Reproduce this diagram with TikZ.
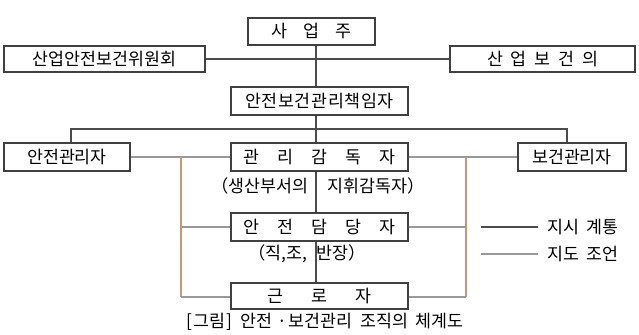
\documentclass[tikz,border=0pt]{standalone}
\usepackage{fontspec}
\newfontfamily\kr{Noto Sans CJK KR}
\begin{document}
\begin{tikzpicture}[x=0.75pt,y=-0.75pt,
  box/.style={draw=black!75,line width=1.1pt,rectangle,inner sep=0pt,
    font=\kr\fontsize{13}{15}\selectfont},
  txt/.style={inner sep=0pt,font=\kr\fontsize{13}{15}\selectfont},
  cmd/.style={draw=black!70,line width=0.9pt},
  adv/.style={draw=black!40,line width=1.1pt},
  advv/.style={draw={rgb,255:red,200;green,150;blue,120},line width=1.1pt}]
\useasboundingbox (0,0) rectangle (639,335);
% boxes
\node[box,minimum width={127*0.75pt},minimum height={27*0.75pt}] (owner) at (311.5,31.5) {사\hspace{0.95em}업\hspace{0.95em}주};
\node[box,minimum width={201*0.75pt},minimum height={26*0.75pt}] (comm) at (104.5,59) {산업안전보건위원회};
\node[box,minimum width={185*0.75pt},minimum height={26*0.75pt}] (doc) at (542.5,59) {산\hspace{0.45em}업\hspace{0.45em}보\hspace{0.45em}건\hspace{0.45em}의};
\node[box,minimum width={177*0.75pt},minimum height={28*0.75pt}] (chief) at (319.5,101) {안\kern0.5pt 전\kern0.5pt 보\kern0.5pt 건\kern0.5pt 관\kern0.5pt 리\kern0.5pt 책\kern0.5pt 임\kern0.5pt 자};
\node[box,minimum width={126*0.75pt},minimum height={28*0.75pt}] (safe) at (67,157) {안전관리자};
\node[box,minimum width={177*0.75pt},minimum height={28*0.75pt}] (sup) at (319.5,157) {관\hspace{1.05em}리\hspace{1.05em}감\hspace{1.05em}독\hspace{1.05em}자};
\node[box,minimum width={108*0.75pt},minimum height={28*0.75pt}] (heal) at (572,157) {보건관리자};
\node[box,minimum width={177*0.75pt},minimum height={28*0.75pt}] (sdam) at (319.5,227) {안\hspace{1.05em}전\hspace{1.05em}담\hspace{1.05em}당\hspace{1.05em}자};
\node[box,minimum width={177*0.75pt},minimum height={26*0.75pt}] (work) at (319.5,296) {근\hspace{1.6em}로\hspace{1.6em}자};
% sub texts
\node[txt] (supnote) at (318,186) {（생산부서의\hspace{1.1em}지휘감독자）};
\node[txt] (sdnote) at (307,254) {（직,조,\hspace{0.5em}반장）};
\node[txt] (cap) at (325,322) {[\kern1pt 그림\kern1pt ]\hspace{0.45em}안전\hspace{0.3em}·\kern1pt 보건관리\hspace{0.45em}조직의\hspace{0.45em}체계도};
% coordinates
\coordinate (c) at (316,0);
\coordinate (busL) at (71,129);
\coordinate (busR) at (567,129);
\coordinate (L) at (181,157);
\coordinate (R) at (466,157);
\coordinate (L2) at (181,297);
\coordinate (R2) at (466,297);
\coordinate (lg1a) at (481,227);
\coordinate (lg1b) at (538,227);
\coordinate (lg2a) at (481,254);
\coordinate (lg2b) at (538,254);
% command lines
\draw[cmd] (owner.south-|c) -- (chief.north-|c);
\draw[cmd] (chief.south-|c) -- (sup.north-|c);
\draw[cmd] (sup.south-|c) -- (sdam.north-|c);
\draw[cmd] (sdam.south-|c) -- (work.north-|c);
\draw[cmd] (comm.east) -- (doc.west);
\draw[cmd] (safe.north-|busL) -- (busL) -- (busR) -- (heal.north-|busR);
% advice lines
\draw[adv] (safe.east) -- (sup.west);
\draw[adv] (sup.east) -- (heal.west);
\draw[advv] (L) -- (L2);
\draw[advv] (R) -- (R2);
\draw[adv] (L|-sdam.west) -- (sdam.west);
\draw[adv] (L2) -- (work.west|-L2);
\draw[adv] (sdam.east) -- (R|-sdam.east);
\draw[adv] (work.east|-R2) -- (R2);
% legend
\draw[cmd] (lg1a) -- (lg1b);
\draw[adv] (lg2a) -- (lg2b);
\node[txt,anchor=west] (lt1) at (547,227) {지시\hspace{0.4em}계통};
\node[txt,anchor=west] (lt2) at (547,254) {지도\hspace{0.4em}조언};
\end{tikzpicture}
\end{document}
